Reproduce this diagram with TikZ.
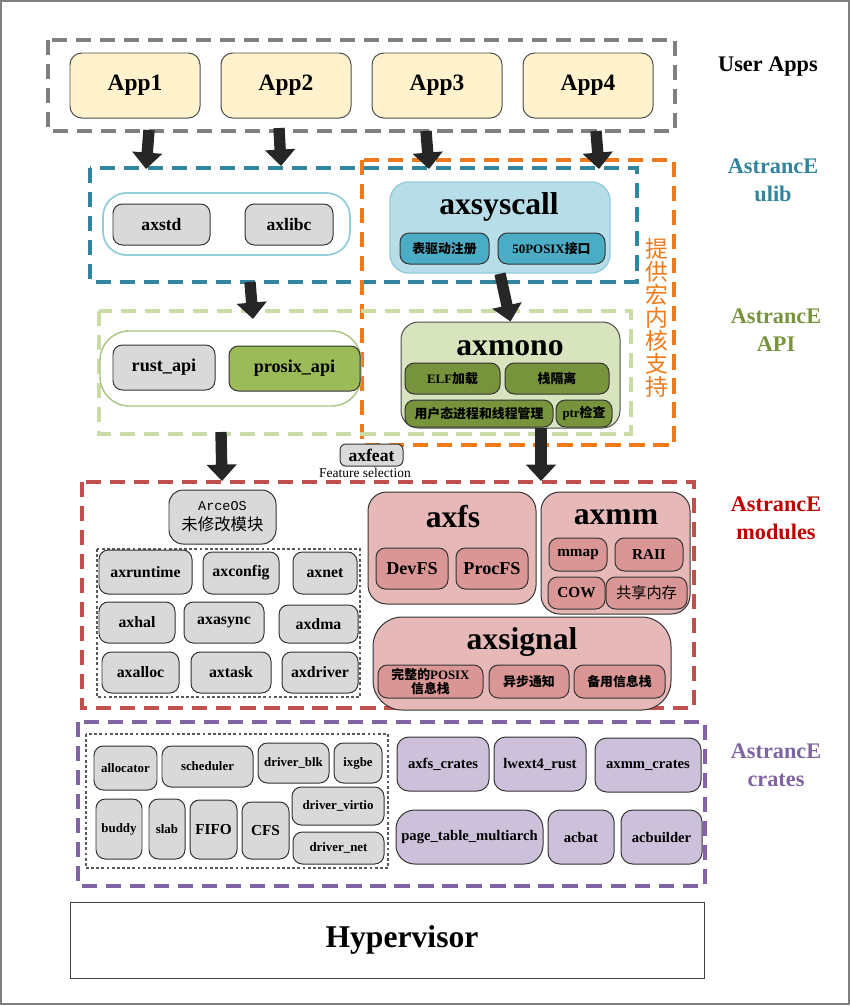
\documentclass[tikz,border=0pt]{standalone}
\usepackage{fontspec}
\setmainfont{Liberation Serif}
\setmonofont{Liberation Mono}
\newfontfamily\cjk{Noto Sans CJK SC}
\usetikzlibrary{positioning, arrows.meta}
\newcommand{\pxu}{0.03cm}
\definecolor{appFill}{HTML}{FFF2CC}
\definecolor{modGray}{HTML}{D9D9D9}
\definecolor{uTeal}{HTML}{31859C}
\definecolor{uOrange}{HTML}{EE7A1A}
\definecolor{sysBorder}{HTML}{92CDDC}
\definecolor{sysFill}{HTML}{B7DEE8}
\definecolor{sysSub}{HTML}{4BACC6}
\definecolor{apiDash}{HTML}{C9DCA6}
\definecolor{apiBorder}{HTML}{A9C47F}
\definecolor{monoFill}{HTML}{D7E4BD}
\definecolor{prosixFill}{HTML}{9BBB59}
\definecolor{monoSub}{HTML}{77933C}
\definecolor{modRed}{HTML}{C0504D}
\definecolor{modFill}{HTML}{E6B9B8}
\definecolor{modSub}{HTML}{D99694}
\definecolor{crPurple}{HTML}{8064A2}
\definecolor{crFill}{HTML}{CCC0DA}
\definecolor{lblTeal}{HTML}{31849B}
\definecolor{lblOlive}{HTML}{77933C}
\definecolor{lblRed}{HTML}{C00000}
\definecolor{arrowBlack}{HTML}{262626}

\begin{document}
\begin{tikzpicture}[x=\pxu, y=-\pxu,
  grp/.style={line width=2.8pt, dash pattern=on 13pt off 7.5pt},
  dots/.style={draw=black!65, line width=2.4pt, dash pattern=on 2.4pt off 2pt},
  box/.style={draw=black!80, line width=0.85pt, rounded corners=8pt, inner sep=0pt,
              align=center, font=\bfseries},
  wh/.style 2 args={minimum width=#1*\pxu, minimum height=#2*\pxu},
  mod/.style={box, fill=modGray, font=\bfseries\fontsize{13.5}{15}\selectfont},
  crate/.style={box, fill=modGray, font=\bfseries\fontsize{11}{13}\selectfont},
  pcrate/.style={box, fill=crFill, rounded corners=10pt, font=\bfseries\fontsize{12.5}{14}\selectfont},
  msub/.style={box, fill=monoSub, font=\bfseries\fontsize{11}{13}\selectfont},
  rsub/.style={box, fill=modSub, font=\bfseries\fontsize{13}{15}\selectfont},
  title/.style={font=\bfseries\fontsize{27}{30}\selectfont, inner sep=0pt},
  layer/.style={font=\bfseries\fontsize{19}{24}\selectfont, align=center},
  fat/.style={draw=arrowBlack, line width=9.7pt, -{Triangle[width=25pt,length=14pt]}},
]
  \useasboundingbox (0,0) rectangle (851,1006);
  \draw[black!50, line width=1.2pt] (1,1) rectangle (849,1004);

  % layer frames
  \draw[grp, draw=black!50] (48,40) rectangle (675,131);
  \draw[grp, draw=uTeal] (90,168) rectangle (637,282);
  \draw[grp, draw=uOrange] (362,160) rectangle (674,445);
  \draw[grp, draw=apiDash] (99,311) rectangle (631,434);
  \draw[grp, draw=modRed] (82,482) rectangle (694,708);
  \draw[grp, draw=crPurple] (78,722) rectangle (705,886);
  \draw[dots] (97,549) rectangle (360,697);
  \draw[dots] (86,734) rectangle (388,868);

  % layer names
  \node[layer] (lUser) at (768,67) {User Apps};
  \node[layer, text=lblTeal] (lUlib) at (773,180) {AstrancE\\ulib};
  \node[layer, text=lblOlive] (lApi) at (776,330) {AstrancE\\API};
  \node[layer, text=lblRed] (lMod) at (776,518) {AstrancE\\modules};
  \node[layer, text=crPurple] (lCrate) at (776,765) {AstrancE\\crates};
  \node[text=uOrange, font=\cjk\fontsize{19.5}{19.6}\selectfont, align=center, inner sep=0pt]
    (macro) at (657,318) {提\\供\\宏\\内\\核\\支\\持};

  % user apps
  \foreach \i/\x in {1/135, 2/286, 3/437, 4/588}
    \node[box, fill=appFill, draw=black!70, rounded corners=10pt, wh={130}{65},
          font=\bfseries\fontsize{20}{24}\selectfont] (app\i) at (\x,85.5) {App\i};

  % ulib
  \node[box, draw=sysBorder, line width=1.5pt, fill=white, rounded corners=20pt, wh={247}{62}] (ulib) at (226.5,224) {};
  \node[mod, wh={97}{41}, font=\bfseries\fontsize{15}{17}\selectfont] (axstd) at (161.5,224.5) {axstd};
  \node[mod, wh={88}{41}, font=\bfseries\fontsize{15}{17}\selectfont] (axlibc) at (289,224.5) {axlibc};
  \node[box, draw=sysBorder, line width=1.2pt, fill=sysFill, rounded corners=16pt, wh={220}{91}] (axsyscall) at (500,227.5) {};
  \node[title] (tSys) at (499,207) {axsyscall};
  \node[msub, fill=sysSub, wh={89}{31}, font=\cjk\bfseries\fontsize{11}{13}\selectfont] (sysTab) at (444.5,248.5) {表驱动注册};
  \node[msub, fill=sysSub, wh={107}{31}] (sysPosix) at (551.5,248.5) {50POSIX{\cjk 接口}};

  % api
  \node[box, draw=apiBorder, line width=1.2pt, fill=white, rounded corners=25pt, wh={261}{75}] (api) at (230.5,368.5) {};
  \node[mod, wh={102}{45}, font=\bfseries\fontsize{15.5}{17}\selectfont] (rustApi) at (164,367.5) {rust\_api};
  \node[mod, fill=prosixFill, wh={131}{45}, font=\bfseries\fontsize{15.5}{17}\selectfont] (prosixApi) at (294.5,368.5) {prosix\_api};
  \node[box, fill=monoFill, draw=black!70, rounded corners=15pt, wh={219}{106}] (axmono) at (510.5,375) {};
  \node[title] (tMono) at (510,348) {axmono};
  \node[msub, wh={95}{31}] (elf) at (452.5,378.5) {ELF{\cjk 加载}};
  \node[msub, wh={104}{31}] (stack) at (557,378.5) {\cjk 栈隔离};
  \node[msub, wh={148}{27}] (proc) at (479,413.5) {\cjk 用户态进程和线程管理};
  \node[msub, wh={56}{27}] (ptr) at (584,413.5) {ptr{\cjk 检查}};

  \node[mod, wh={63}{22}, rounded corners=5pt, font=\bfseries\fontsize{15}{16}\selectfont] (axfeat) at (371.5,455) {axfeat};
  \node[font=\fontsize{11.5}{13}\selectfont, inner sep=0pt] (featNote) at (365,473) {Feature selection};

  % modules
  \node[box, fill=modGray, rounded corners=12pt, wh={107}{54}, font=\fontsize{14}{17}\selectfont]
    (arceos) at (222.5,517) {{\ttfamily\fontsize{11.5}{14}\selectfont ArceOS}\\{\cjk 未修改模块}};
  \foreach \n/\x/\y/\w/\h in {axruntime/145.5/572/93/44, axconfig/241/573/76/42, axnet/325/573/64/42,
      axhal/137/622.5/76/41, axasync/224/622.5/80/41, axdma/318.5/624/79/38,
      axalloc/140.5/672.5/77/41, axtask/231/672.5/80/41, axdriver/320/672.5/76/41}
    \node[mod, wh={\w}{\h}] (\n) at (\x,\y) {\n};

  \node[box, fill=modFill, rounded corners=16pt, wh={168}{112}] (axfs) at (452,548) {};
  \node[title] (tFs) at (453,517) {axfs};
  \node[rsub, wh={72}{41}, font=\bfseries\fontsize{15.5}{17}\selectfont] (devfs) at (412,568.5) {DevFS};
  \node[rsub, wh={72}{41}, font=\bfseries\fontsize{15.5}{17}\selectfont] (procfs) at (492,568.5) {ProcFS};
  \node[box, fill=modFill, rounded corners=16pt, wh={149}{122}] (axmm) at (615.5,553) {};
  \node[title] (tMm) at (616,517) {axmm};
  \node[rsub, wh={58}{33}] (mmap) at (578,554.5) {mmap};
  \node[rsub, wh={68}{33}] (raii) at (649,554.5) {RAII};
  \node[rsub, wh={57}{32}] (cow) at (576.5,593) {COW};
  \node[rsub, wh={81}{32}, font=\cjk\fontsize{13}{15}\selectfont] (shm) at (646.5,593) {共享内存};
  \node[box, fill=modFill, rounded corners=25pt, wh={298}{93}] (axsignal) at (522,663.5) {};
  \node[title] (tSig) at (522,642) {axsignal};
  \node[msub, fill=modSub, wh={105}{33}, font=\bfseries\fontsize{11}{12}\selectfont] (sigPosix) at (430.5,681.5) {{\cjk 完整的}POSIX\\{\cjk 信息栈}};
  \node[msub, fill=modSub, wh={80}{33}] (sigAsync) at (529,681.5) {\cjk 异步通知};
  \node[msub, fill=modSub, wh={91}{33}] (sigAlt) at (619.5,681.5) {\cjk 备用信息栈};

  % crates
  \foreach \n/\t/\x/\y/\w/\h in {alloc/allocator/125.5/768/63/44, sched/scheduler/207.5/766.5/91/41,
      blk/driver\_blk/293.5/763/71/40, ixgbe/ixgbe/358/763/48/40,
      buddy/buddy/119/829/46/60, slab/slab/167/829/36/60,
      virtio/driver\_virtio/338/806/92/38, dnet/driver\_net/338.5/848/91/32}
    \node[crate, wh={\w}{\h}] (\n) at (\x,\y) {\t};
  \node[crate, wh={47}{59}, font=\bfseries\fontsize{13}{15}\selectfont] (fifo) at (213.5,829.5) {FIFO};
  \node[crate, wh={47}{57}, font=\bfseries\fontsize{13}{15}\selectfont] (cfs) at (265.5,830.5) {CFS};
  \node[pcrate, wh={92}{54}] (fsCr) at (443,764) {axfs\_crates};
  \node[pcrate, wh={92}{54}] (lwext) at (540,764) {lwext4\_rust};
  \node[pcrate, wh={106}{54}] (mmCr) at (648,765) {axmm\_crates};
  \node[pcrate, rounded corners=16pt, wh={147}{54}] (ptma) at (469.5,837) {page\_table\_multiarch};
  \node[pcrate, wh={66}{54}] (acbat) at (581,837) {acbat};
  \node[pcrate, wh={81}{54}] (acbuilder) at (661.5,837) {acbuilder};

  \node[draw=black!75, line width=0.85pt, wh={634}{76}, font=\bfseries\fontsize{27}{30}\selectfont]
    (hyper) at (387,940) {\hspace*{0.9cm}Hypervisor};

  % arrows
  \coordinate (a1s) at (149,130);  \coordinate (a1e) at (146,169);
  \coordinate (a2s) at (279,128);  \coordinate (a2e) at (281,166);
  \coordinate (a3s) at (426,131);  \coordinate (a3e) at (429,169);
  \coordinate (a4s) at (596,131);  \coordinate (a4e) at (599,169);
  \coordinate (uls) at (250,282);  \coordinate (ule) at (253,319);
  \coordinate (aps) at (221,432);  \coordinate (ape) at (222,481);
  \coordinate (mos) at (541,428);  \coordinate (moe) at (541,481);
  \foreach \i in {1,...,4}
    \draw[fat] (a\i s) -- (a\i e);
  \draw[fat] (uls) -- (ule);
  \draw[fat] (axsyscall.south) -- (axmono.north);
  \draw[fat] (aps) -- (ape);
  \draw[fat] (mos) -- (moe);
\end{tikzpicture}
\end{document}
